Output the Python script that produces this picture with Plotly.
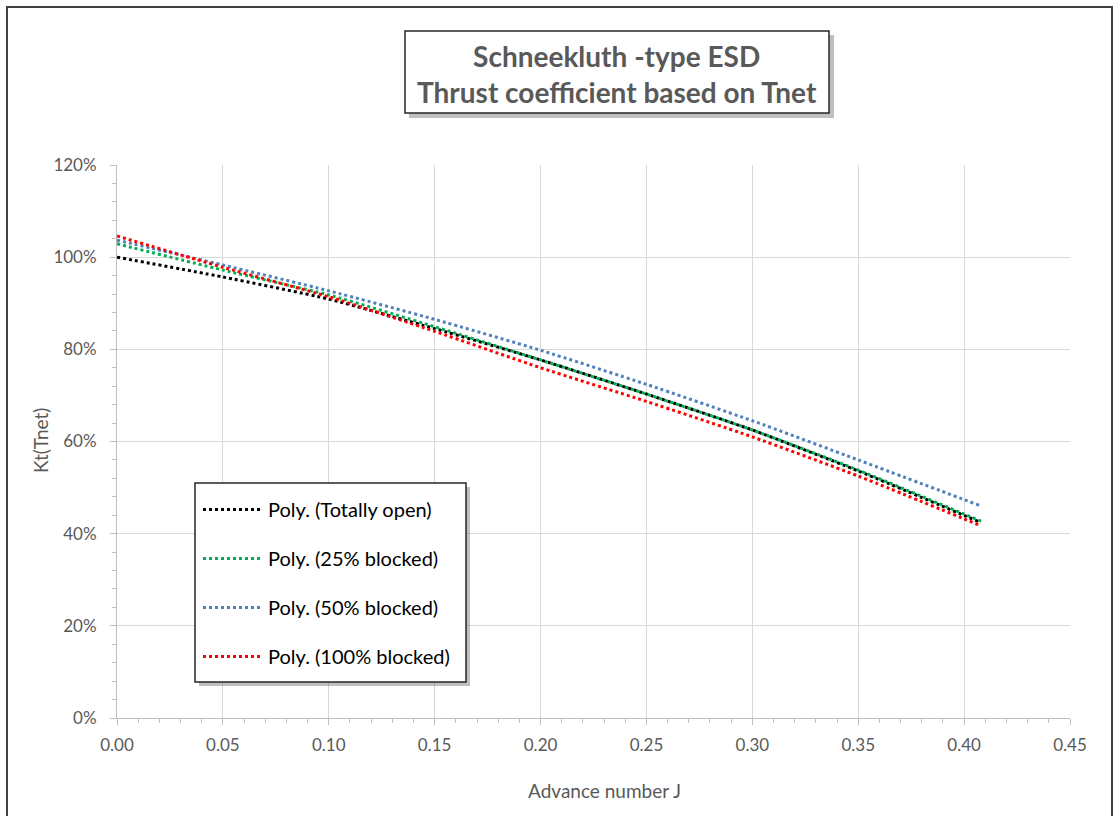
import plotly.graph_objects as go

# Advance number J (read positions)
J = [0.0, 0.05, 0.10, 0.15, 0.20, 0.25, 0.30, 0.35, 0.408]

kt_open = [1.000, 0.957, 0.909, 0.845, 0.777, 0.703, 0.625, 0.536, 0.424]
kt_25 = [1.029, 0.972, 0.918, 0.849, 0.777, 0.703, 0.625, 0.538, 0.427]
kt_50 = [1.037, 0.983, 0.927, 0.865, 0.798, 0.724, 0.645, 0.560, 0.460]
kt_100 = [1.046, 0.978, 0.914, 0.839, 0.760, 0.687, 0.610, 0.525, 0.417]

series_names = ["Poly. (Totally open)", "Poly. (25% blocked)", "Poly. (50% blocked)", "Poly. (100% blocked)"]
series_values = [kt_open, kt_25, kt_50, kt_100]
series_colors = ["#000000", "#00b050", "#4f81bd", "#ff0000"]

FONT = "Lato"
GRAY = "#595959"

fig = go.Figure()
for i, (name, vals, col) in enumerate(zip(series_names, series_values, series_colors)):
    fig.add_trace(go.Scatter(
        x=J, y=vals, mode="lines", name=name, legendgroup=f"g{i}",
        line=dict(color=col, width=3, dash="dot", shape="spline", smoothing=0.6),
    ))

W, H = 1115, 816
L, R, T, B = 117, 45, 165, 98
pw, ph = W - L - R, H - T - B

def px(x):
    return (x - L) / pw

def py(y):
    return (H - B - y) / ph

shapes = [
    # outer chart border
    dict(type="rect", xref="paper", yref="paper", x0=px(7), x1=px(1112), y0=py(830), y1=py(7),
         line=dict(color="#404040", width=2), fillcolor="rgba(0,0,0,0)", layer="below"),
    # title box shadow
    dict(type="rect", xref="paper", yref="paper", x0=px(409), x1=px(834), y0=py(118), y1=py(35),
         line=dict(width=0), fillcolor="rgba(0,0,0,0.25)", layer="above"),
    # title box
    dict(type="rect", xref="paper", yref="paper", x0=px(405), x1=px(829), y0=py(113), y1=py(31),
         line=dict(color="#262626", width=1.5), fillcolor="white", layer="above"),
    # legend shadow
    dict(type="rect", xref="paper", yref="paper", x0=px(199), x1=px(470), y0=py(686), y1=py(487),
         line=dict(width=0), fillcolor="rgba(0,0,0,0.25)", layer="above"),
    # legend box
    dict(type="rect", xref="paper", yref="paper", x0=px(195), x1=px(466), y0=py(682), y1=py(483),
         line=dict(color="#262626", width=1.5), fillcolor="white", layer="above"),
]

annotations = [
    dict(text="<b>Schneekluth -type ESD<br>Thrust coefficient based on Tnet</b>", xref="paper", yref="paper",
         x=px(617), y=py(74), xanchor="center", yanchor="middle", showarrow=False,
         font=dict(family=FONT, size=28, color=GRAY)),
    dict(text="Kt(Tnet)", xref="paper", yref="paper", x=px(40), y=py(441), textangle=-90,
         xanchor="center", yanchor="middle", showarrow=False, font=dict(family=FONT, size=19, color=GRAY)),
    dict(text="Advance number J", xref="paper", yref="paper", x=px(604), y=py(790),
         xanchor="center", yanchor="middle", showarrow=False, font=dict(family=FONT, size=19, color=GRAY)),
]

fig.update_layout(
    width=W, height=H,
    margin=dict(l=L, r=R, t=T, b=B),
    paper_bgcolor="white", plot_bgcolor="white",
    font=dict(family=FONT, color=GRAY),
    shapes=shapes, annotations=annotations,
    legend=dict(x=px(198), y=py(490), xanchor="left", yanchor="top",
                bgcolor="rgba(0,0,0,0)", borderwidth=0,
                font=dict(family=FONT, size=20, color="#000000"),
                tracegroupgap=20, itemwidth=60),
    showlegend=True,
)
fig.update_xaxes(range=[0, 0.45], dtick=0.05, tick0=0, tickformat=".2f",
                 showgrid=True, gridcolor="#d9d9d9", gridwidth=1,
                 showline=True, linecolor="#bfbfbf", linewidth=1,
                 ticks="outside", ticklen=6, tickcolor="#bfbfbf", ticklabelstandoff=6,
                 minor=dict(dtick=0.01, ticks="outside", ticklen=4, tickcolor="#bfbfbf", showgrid=False),
                 tickfont=dict(family=FONT, size=17, color=GRAY), zeroline=False)
fig.update_yaxes(range=[0, 1.2], dtick=0.2, tick0=0, tickformat=".0%",
                 showgrid=True, gridcolor="#d9d9d9", gridwidth=1,
                 showline=True, linecolor="#bfbfbf", linewidth=1,
                 ticks="outside", ticklen=6, tickcolor="#bfbfbf", ticklabelstandoff=10,
                 minor=dict(dtick=0.04, ticks="outside", ticklen=4, tickcolor="#bfbfbf", showgrid=False),
                 tickfont=dict(family=FONT, size=17, color=GRAY), zeroline=False)

fig.write_html("out.html")
